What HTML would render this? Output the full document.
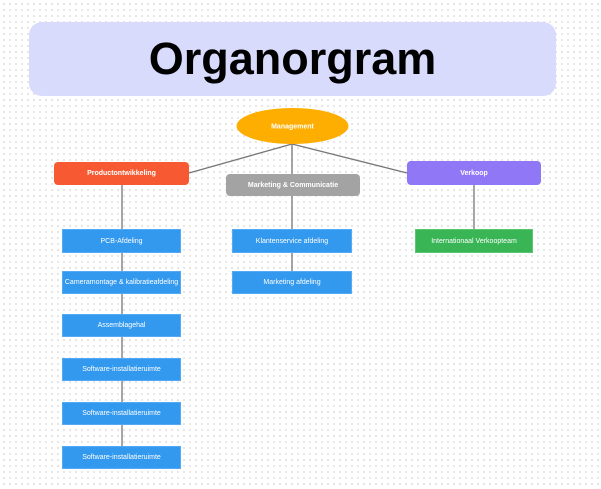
<!DOCTYPE html>
<html><head><style>
html,body{margin:0;padding:0}
body{width:601px;height:489px;position:relative;overflow:hidden;background:#fff;
background-image:radial-gradient(circle,#e2e2e2 0.9px,transparent 1.2px);background-size:6px 6px;background-position:1px 1px;
font-family:"Liberation Sans",sans-serif}
.b{position:absolute;color:#fff;font-size:7px;display:flex;align-items:center;justify-content:center;box-sizing:border-box;white-space:nowrap}
.bl{background:#3399ee;border:1px solid #55aaf5}
</style></head><body>
<div style="position:absolute;left:29px;top:22px;width:527px;height:74px;background:#d9dbfd;border-radius:13px;display:flex;align-items:center;justify-content:center;font-weight:bold;font-size:45px;color:#000">Organorgram</div>
<svg style="position:absolute;left:0;top:0" width="601" height="489">
<g stroke="#777" stroke-width="1.3" fill="none">
<line x1="292" y1="144" x2="189" y2="173"/>
<line x1="292" y1="144" x2="292" y2="174"/>
<line x1="292" y1="144" x2="407" y2="173"/>
<line x1="122" y1="185" x2="122" y2="446"/>
<line x1="292" y1="196" x2="292" y2="271"/>
<line x1="474" y1="185" x2="474" y2="230"/>
</g>
<ellipse cx="292.5" cy="126" rx="56" ry="18" fill="#fdae00"/>
<text x="292.5" y="128.5" font-family="Liberation Sans" font-size="7" font-weight="bold" fill="#fff" text-anchor="middle">Management</text>
</svg>
<div class="b" style="left:54px;top:162px;width:135px;height:23px;background:#f75a32;border-radius:4px;font-weight:bold">Productontwikkeling</div>
<div class="b" style="left:226px;top:174px;width:134px;height:22px;background:#a3a3a3;border-radius:4px;font-weight:bold">Marketing &amp; Communicatie</div>
<div class="b" style="left:407px;top:161px;width:134px;height:24px;background:#8f77f6;border-radius:4px;font-weight:bold">Verkoop</div>
<div class="b bl" style="left:62px;top:229px;width:119px;height:24px">PCB-Afdeling</div>
<div class="b bl" style="left:62px;top:271px;width:119px;height:23px">Cameramontage &amp; kalibratieafdeling</div>
<div class="b bl" style="left:62px;top:314px;width:119px;height:23px">Assemblagehal</div>
<div class="b bl" style="left:62px;top:358px;width:119px;height:23px">Software-installatieruimte</div>
<div class="b bl" style="left:62px;top:402px;width:119px;height:23px">Software-installatieruimte</div>
<div class="b bl" style="left:62px;top:446px;width:119px;height:23px">Software-installatieruimte</div>
<div class="b bl" style="left:232px;top:229px;width:120px;height:24px">Klantenservice afdeling</div>
<div class="b bl" style="left:232px;top:271px;width:120px;height:23px">Marketing afdeling</div>
<div class="b" style="left:415px;top:229px;width:118px;height:24px;background:#39b556;border:1px solid #5ac872">Internationaal Verkoopteam</div>
</body></html>
